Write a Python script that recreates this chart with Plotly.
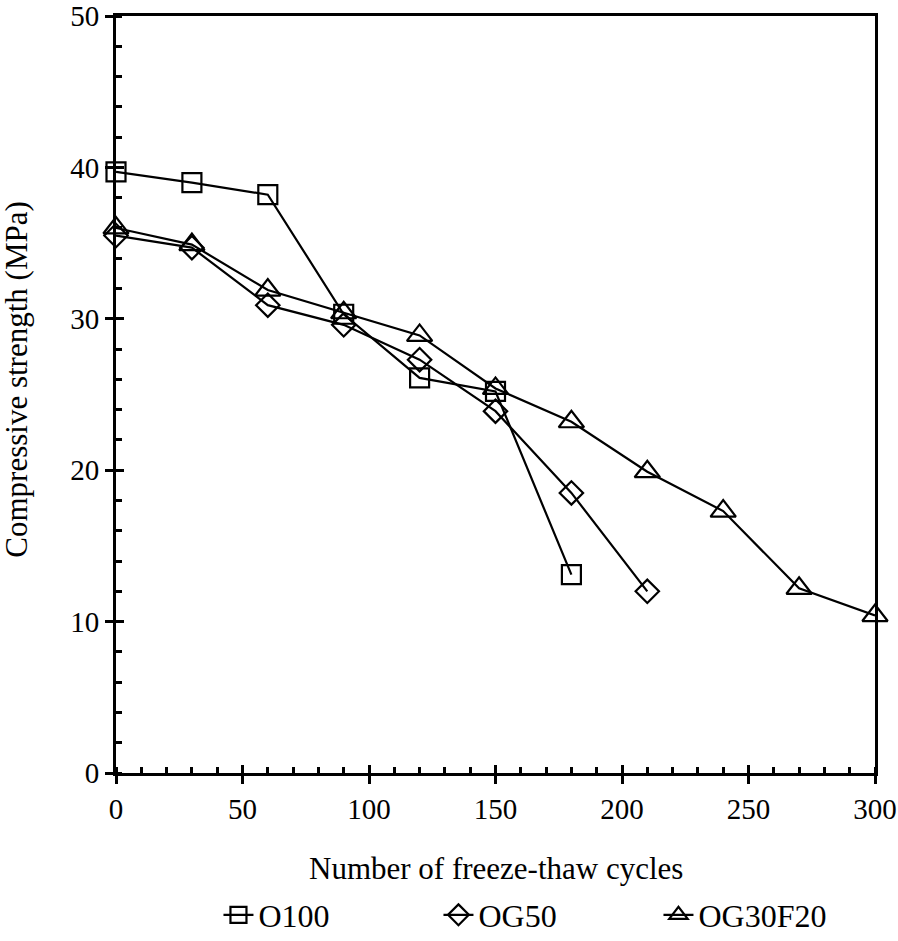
import plotly.graph_objects as go

cycles = [0, 30, 60, 90, 120, 150, 180, 210, 240, 270, 300]
o100 = [39.7, 39.0, 38.2, 30.3, 26.1, 25.2, 13.1]
og50 = [35.5, 34.7, 30.9, 29.6, 27.3, 23.9, 18.5, 12.0]
og30f20 = [36.0, 34.9, 31.9, 30.4, 28.9, 25.4, 23.2, 19.9, 17.3, 12.2, 10.4]

series = [
    ("O100", o100, "square-open", 19),
    ("OG50", og50, "diamond-open", 18),
    ("OG30F20", og30f20, "triangle-up-open", 22),
]

family = "Times New Roman, Liberation Serif, serif"
tick_font = dict(family=family, size=29, color="black")
title_font = dict(family=family, size=31, color="black")
legend_font = dict(family=family, size=32, color="black")

fig = go.Figure()
for name, vals, sym, sz in series:
    fig.add_trace(go.Scatter(
        x=cycles[:len(vals)], y=vals, name=name, mode="lines+markers",
        line=dict(color="black", width=2.2),
        marker=dict(symbol=sym, size=sz, color="black", line=dict(width=2.2)),
        cliponaxis=False))

axis_common = dict(showgrid=False, zeroline=False, linecolor="black", linewidth=3,
                   ticks="outside", ticklen=8, tickwidth=2.5, tickcolor="black",
                   mirror=True, tickfont=tick_font, automargin=False,
                   ticklabeloverflow="allow")
fig.update_xaxes(range=[0, 300], dtick=50,
                 minor=dict(dtick=10, ticks="inside", ticklen=6, tickwidth=2.5, tickcolor="black"),
                 **axis_common)
fig.update_yaxes(range=[0, 50], dtick=10,
                 minor=dict(dtick=2, ticks="inside", ticklen=6, tickwidth=2.5, tickcolor="black"),
                 **axis_common)

# inside halves of the major ticks so they cross the axes
fig.update_layout(
    xaxis2=dict(overlaying="x", range=[0, 300], dtick=50, ticks="inside", ticklen=8, tickwidth=2.5,
                tickcolor="black", showticklabels=False, showgrid=False, zeroline=False, showline=False),
    yaxis2=dict(overlaying="y", range=[0, 50], dtick=10, ticks="inside", ticklen=8, tickwidth=2.5,
                tickcolor="black", showticklabels=False, showgrid=False, zeroline=False, showline=False),
)
fig.add_trace(go.Scatter(x=[None], y=[None], xaxis="x2", yaxis="y2", showlegend=False, hoverinfo="skip"))

fig.add_annotation(text="Number of freeze-thaw cycles", xref="paper", yref="paper",
                   x=0.5, y=-0.1255, xanchor="center", yanchor="middle", showarrow=False, font=title_font)
fig.add_annotation(text="Compressive strength (MPa)", xref="paper", yref="paper",
                   x=-0.131, y=0.519, xanchor="center", yanchor="middle", textangle=-90,
                   showarrow=False, font=title_font)

fig.update_layout(
    width=898, height=941,
    margin=dict(l=116, r=23, t=16, b=168, autoexpand=False),
    plot_bgcolor="white", paper_bgcolor="white",
    font=tick_font,
    legend=dict(orientation="h", x=0.135, xanchor="left", y=-0.1876, yanchor="middle",
                font=legend_font, entrywidth=175),
)

# drop the default body margin so the figure fills the window exactly
fig.write_html("out.html", config={"displayModeBar": False},
               post_script="document.body.style.margin='0';document.body.style.overflow='hidden';")
